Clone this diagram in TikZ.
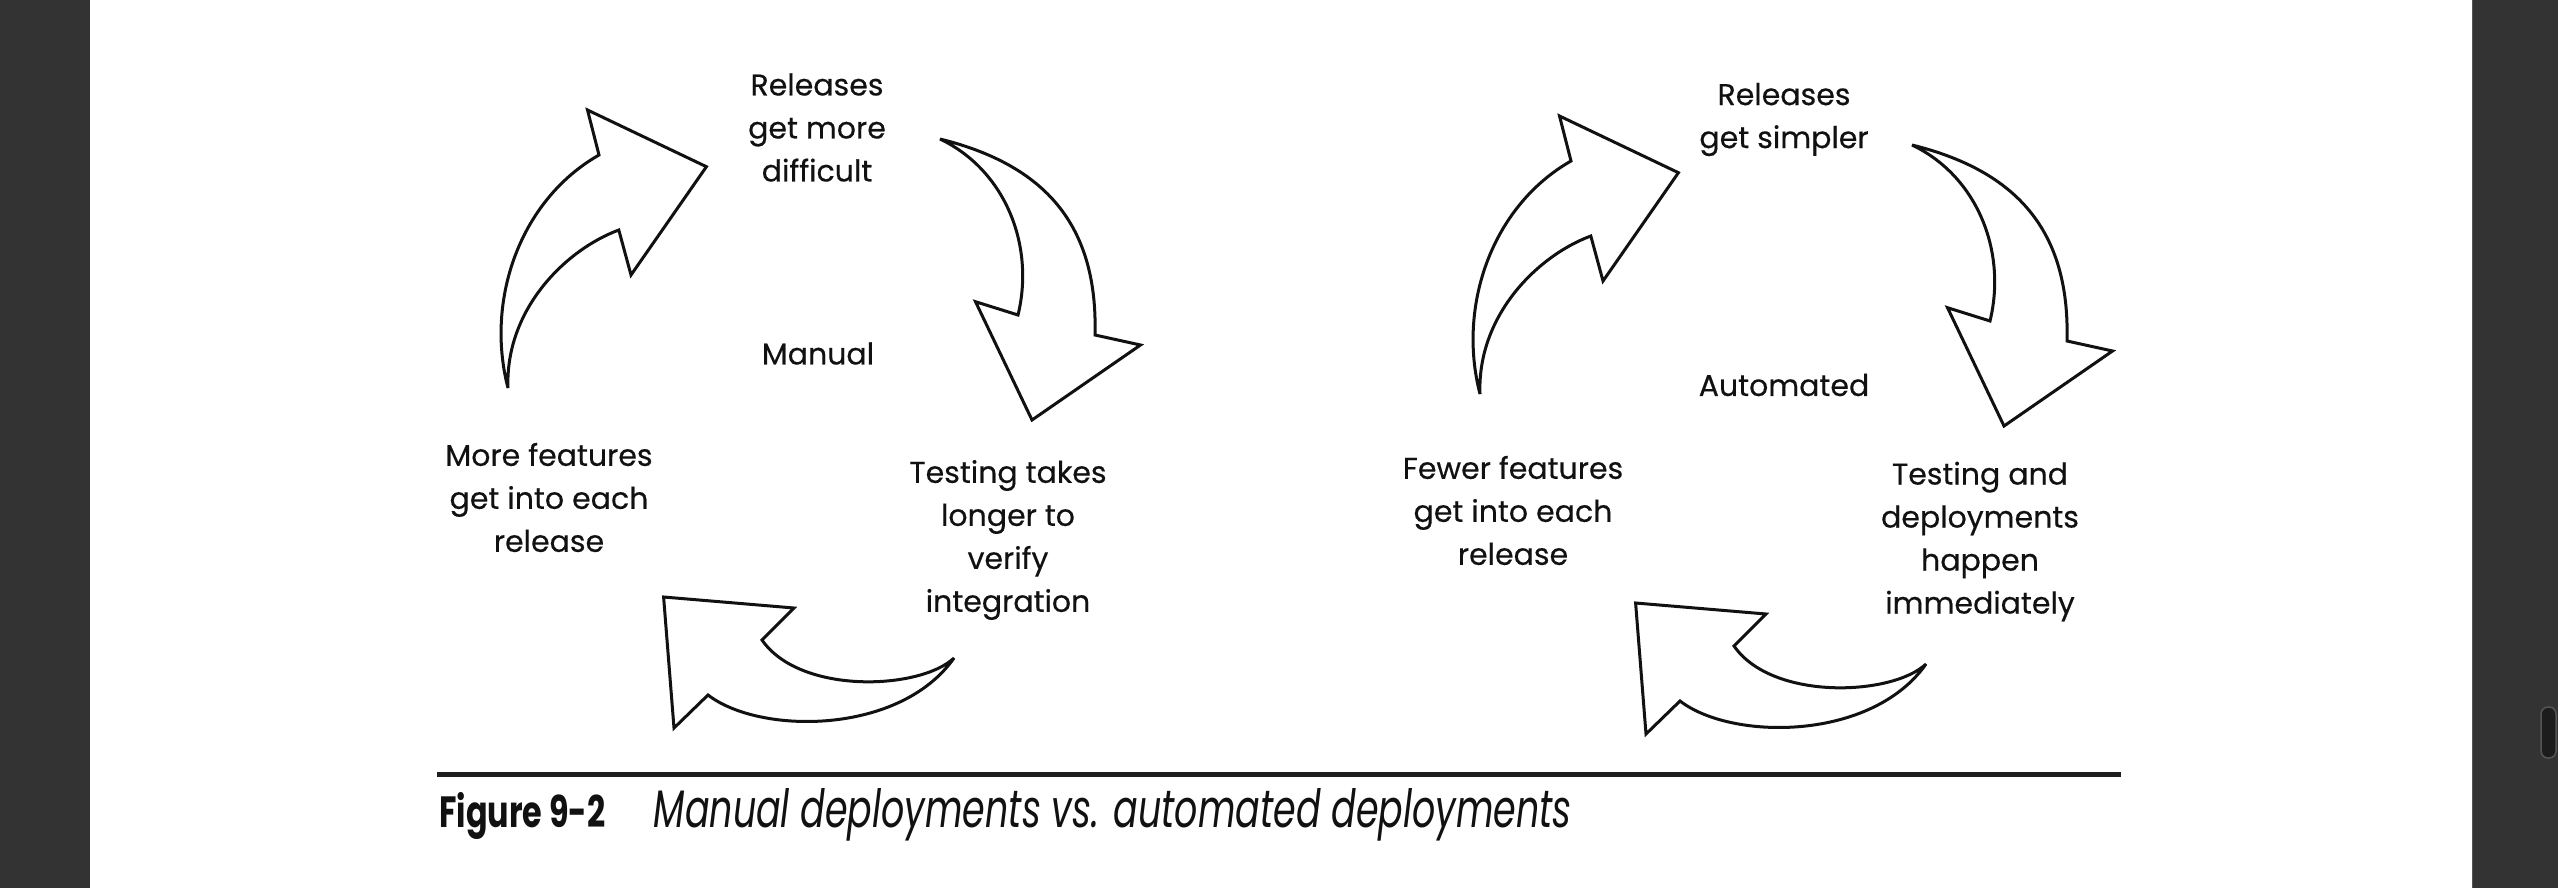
\documentclass[tikz,border=0pt]{standalone}
\usepackage{fontspec}
\usepackage{graphicx}
\setmainfont{Poppins}
\newfontfamily\bodyfont[FakeBold=0.4]{Poppins}
\definecolor{barcol}{HTML}{333333}
\definecolor{barline}{HTML}{555555}
\definecolor{scrollfill}{HTML}{1C1C1C}
\definecolor{rulecol}{HTML}{1E1E1E}
\definecolor{inkcol}{HTML}{111111}
\begin{document}
\begin{tikzpicture}[x=1pt,y=-1pt,
  arrowshape/.style={draw=inkcol, line width=3pt, fill=white, line join=miter, miter limit=4},
  lbl/.style={align=center, font=\bodyfont\fontsize{30}{43}\selectfont, text=inkcol, inner sep=0pt},
  cyclearrows/.pic={
    % up arrow (left side)
    \draw[arrowshape] (508,388) .. controls (485,300) and (520,200) .. (599,155)
      -- (587.5,110) -- (706.4,166.7) -- (631,275) -- (618.8,230)
      .. controls (565,250) and (505,310) .. cycle;
    % down arrow (right side)
    \draw[arrowshape] (940,139) .. controls (1045,165) and (1098,225) .. (1095,335)
      -- (1140.5,345) -- (1032,420) -- (975.5,301.7) -- (1018,315)
      .. controls (1035,245) and (1005,170) .. cycle;
    % bottom arrow
    \draw[arrowshape] (954,658) .. controls (920,690) and (800,695) .. (762,640)
      -- (794,608) -- (663.6,597) -- (674,728) -- (708,695)
      .. controls (760,735) and (900,735) .. cycle;
  }]
\useasboundingbox (0,0) rectangle (2558,888);
\fill[white] (0,0) rectangle (2558,888);
\fill[barcol] (0,0) rectangle (90,888);
\fill[barcol] (2472,0) rectangle (2558,888);
\draw[barline, line width=1pt] (2472.5,0) -- (2472.5,888);
\draw[fill=scrollfill, draw=barline, line width=1.5pt, rounded corners=7pt] (2541,707) rectangle (2556,758);

% left cycle
\pic at (0,0) {cyclearrows};
\node[lbl] (lrel) at (817,127.5) {Releases\\get more\\difficult};
\node[lbl] (lman) at (818,353.5) {Manual};
\node[lbl] (lfeat) at (549,497.5) {More features\\get into each\\release};
\node[lbl] (ltest) at (1008,540) {Testing takes\\longer to\\verify\\integration};

% right cycle
\pic at (972,6) {cyclearrows};
\node[lbl] (rrel) at (1784,119.5) {Releases\\get simpler};
\node[lbl] (rauto) at (1784,385) {Automated};
\node[lbl] (rfeat) at (1513,510.5) {Fewer features\\get into each\\release};
\node[lbl] (rtest) at (1980,541.5) {Testing and\\deployments\\happen\\immediately};

% caption
\coordinate (rulel) at (437,774.5);
\coordinate (ruler) at (2121,774.5);
\draw[rulecol, line width=4.5pt] (rulel) -- (ruler);
\node[anchor=base west, inner sep=0pt, text=inkcol] (figlabel) at (439,827)
  {\resizebox{166pt}{35pt}{\bfseries Figure 9-2}};
\node[anchor=base west, inner sep=0pt, text=inkcol] (figtitle) at (653.5,827)
  {\resizebox{918pt}{39pt}{\itshape Manual deployments vs. automated deployments}};
\end{tikzpicture}
\end{document}
